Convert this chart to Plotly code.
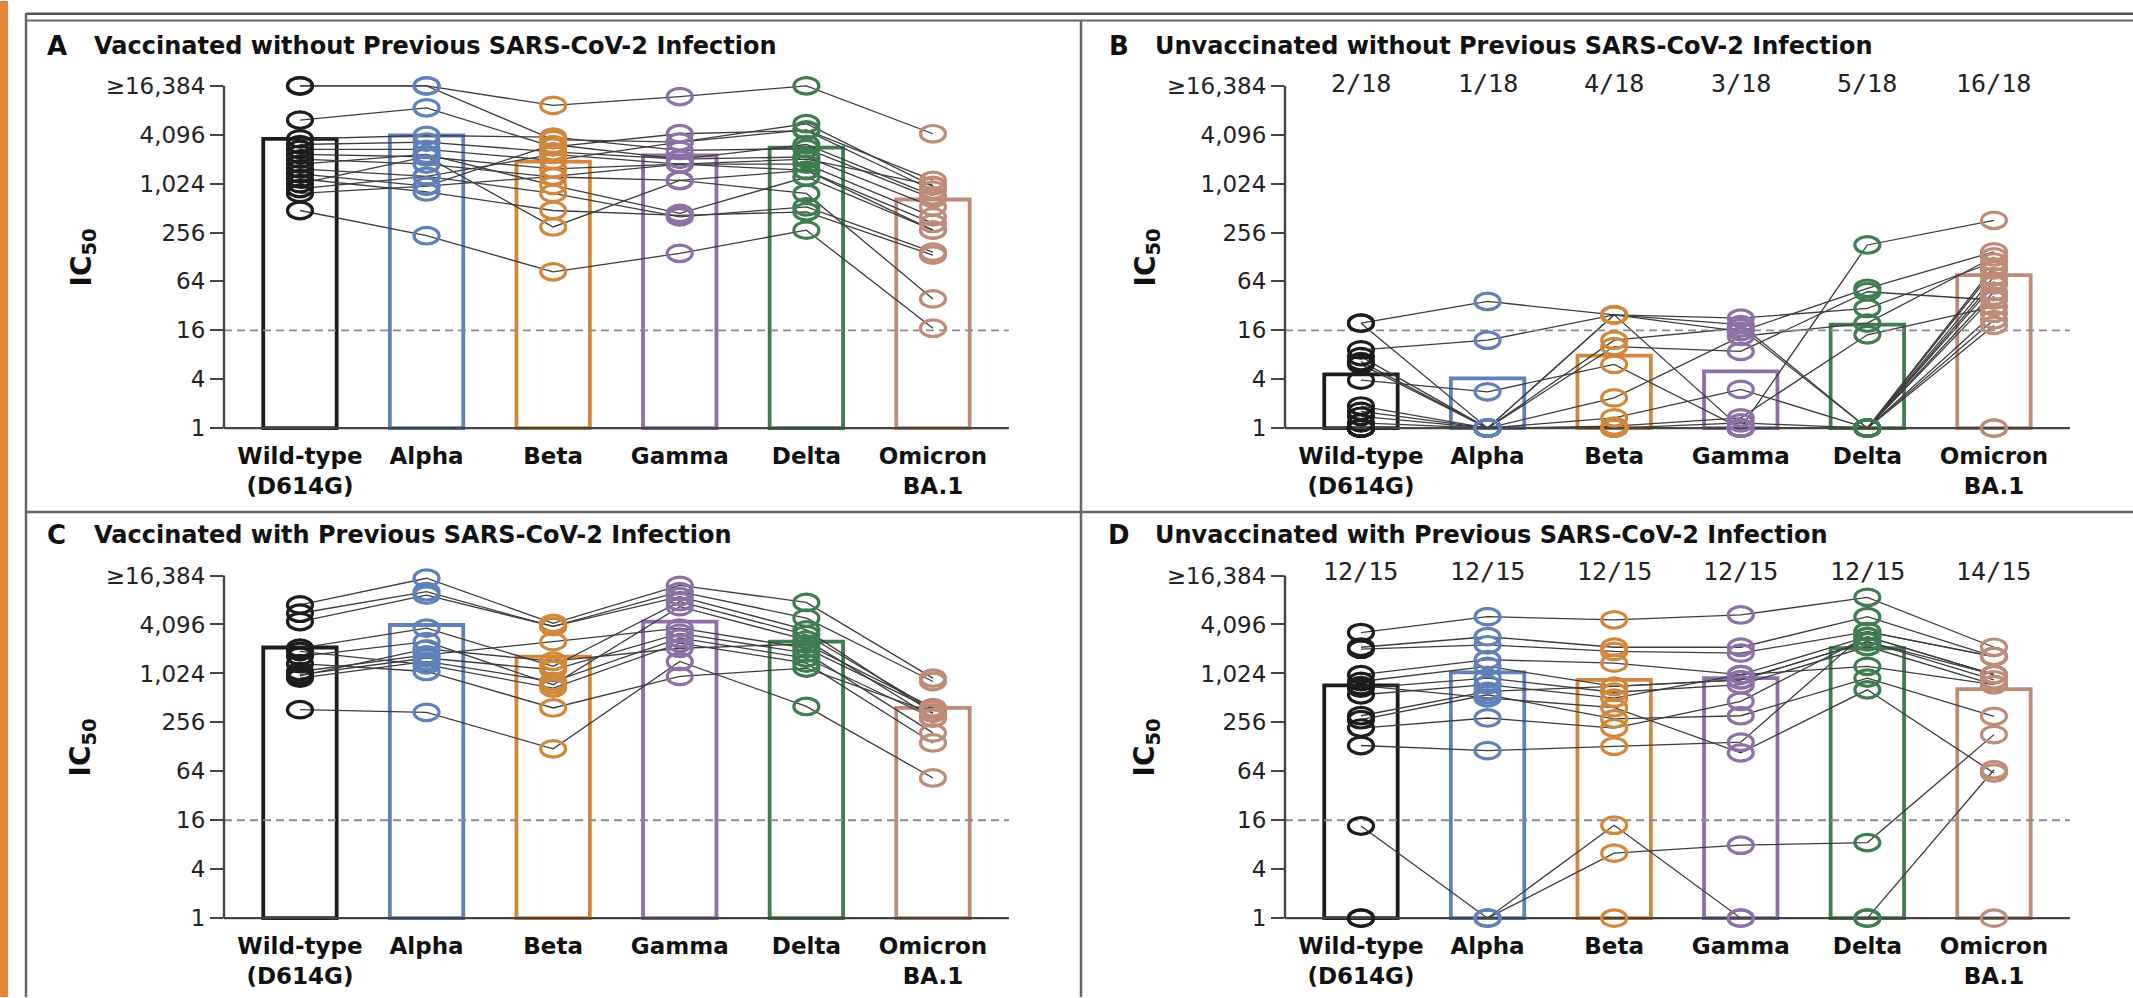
import math
import plotly.graph_objects as go

W, H = 2133, 998

# ---------------- data ----------------
variants = ["Wild-type<br>(D614G)", "Alpha", "Beta", "Gamma", "Delta", "Omicron<br>BA.1"]
ytick_vals = [1, 4, 16, 64, 256, 1024, 4096, 16384]
ytick_text = ["1", "4", "16", "64", "256", "1,024", "4,096", "≥16,384"]
threshold = 16

titles = {
    "A": "Vaccinated without Previous SARS-CoV-2 Infection",
    "B": "Unvaccinated without Previous SARS-CoV-2 Infection",
    "C": "Vaccinated with Previous SARS-CoV-2 Infection",
    "D": "Unvaccinated with Previous SARS-CoV-2 Infection",
}

# IC50 per participant: [WT, Alpha, Beta, Gamma, Delta, Omicron BA.1]
a_participants = [
    [16384, 16384, 9410, 12080, 16384, 4210],
    [16384, 16384, 3565, 3328, 5595, 955],
    [6208, 8780, 2896, 4211, 4608, 849],
    [3640, 4010, 3822, 2628, 2760, 671],
    [3104, 3328, 2521, 2048, 2180, 530],
    [2702, 2702, 1978, 3328, 4705, 1120],
    [2353, 2195, 1552, 1783, 1783, 399],
    [2048, 1783, 1235, 1120, 1489, 331],
    [1783, 2353, 975, 440, 1235, 274],
    [1552, 1261, 776, 399, 530, 147],
    [1351, 955, 3104, 2048, 3104, 724],
    [1176, 809, 478, 416, 461, 135],
    [1024, 2195, 300, 1120, 776, 39],
    [891, 1261, 2353, 1783, 2048, 975],
    [776, 955, 1261, 1783, 1489, 274],
    [478, 234, 84, 142, 274, 17],
]
a_gmt = [3640, 4010, 1911, 2272, 2837, 653]

b_participants = [
    [19.6, 36.3, 24.8, 22.6, 29.9, 111],
    [19.6, 1, 24.8, 18.8, 1, 88.6],
    [9.2, 12.1, 24.8, 15.5, 52.7, 148],
    [7.6, 1, 24.8, 1, 180, 362],
    [6.6, 1, 12.1, 17.1, 1, 73.5],
    [6.1, 1, 10.1, 8.8, 47.8, 37.8],
    [3.9, 2.8, 6.1, 1, 1, 58.1],
    [1.87, 1, 2.36, 13.5, 19.6, 128],
    [1.61, 1, 1.34, 3.0, 1, 47.8],
    [1.4, 1, 1.06, 1.34, 14.1, 31.3],
    [1.16, 1, 1, 1.16, 1, 21.6],
    [1, 1, 1, 1, 1, 97],
    [1, 1, 1, 1, 1, 64],
    [1, 1, 1, 1, 1, 42.2],
    [1, 1, 1, 1, 1, 26],
    [1, 1, 1, 1, 1, 18.4],
    [1, 1, 1, 1, 1, 1],
    [1, 1, 1, 1, 1, 1],
]
b_gmt = [4.6, 4.1, 7.8, 5.0, 18.8, 76.6]
b_fractions = ["2/18", "1/18", "4/18", "3/18", "5/18", "16/18"]

c_participants = [
    [7132, 15180, 4240, 12417, 7643, 898],
    [5633, 10367, 3875, 10367, 4904, 815],
    [4450, 9410, 3875, 9027, 3517, 333],
    [2091, 3691, 1252, 7804, 3061, 367],
    [1663, 2521, 744, 6794, 2647, 290],
    [1082, 1734, 2521, 3691, 2091, 367],
    [989, 1585, 1136, 3191, 1820, 190],
    [898, 1438, 815, 2778, 1585, 290],
    [1911, 1305, 676, 2419, 1370, 143],
    [1351, 1082, 385, 942, 1193, 333],
    [367, 340, 121, 1438, 402, 53],
    [955, 2048, 1448, 2091, 2353, 388],
]
c_gmt = [2135, 4039, 1652, 4450, 2521, 385]

d_participants = [
    [3259, 5113, 4672, 5367, 8841, 2149],
    [2150, 2896, 2150, 2150, 5113, 1652],
    [2034, 2304, 1911, 1820, 3350, 1652],
    [989, 1510, 1370, 989, 2896, 989],
    [815, 1252, 709, 855, 2521, 855],
    [676, 898, 601, 744, 2195, 744],
    [560, 744, 508, 989, 1252, 744],
    [309, 617, 709, 855, 2521, 989],
    [276, 560, 282, 309, 898, 304],
    [218, 290, 218, 465, 2896, 989],
    [133, 115, 130, 146, 3350, 1652],
    [13.6, 1, 13.9, 1, 1, 67],
    [1, 1, 6.3, 7.9, 8.5, 181],
    [724, 512, 388, 108, 644, 61],
    [1, 1, 1, 1, 1, 1],
]
d_gmt = [729, 1053, 855, 898, 2091, 657]
d_fractions = ["12/15", "12/15", "12/15", "12/15", "12/15", "14/15"]

# ---------------- styles / layout geometry ----------------
colors = ["#1c1c1c", "#5f80b8", "#d2883c", "#8c70a6", "#3f7d50", "#bf8b79"]
FONT = "DejaVu Sans"
unit_x = 126.6          # px per category
marker_half_w = 12.5    # px
marker_half_h = 8.3     # px

panels = [
    dict(key="A", rows=a_participants, gmt=a_gmt, fr=None, ax_left=224, y_top=85.0, y_bot=428.0,
         letter_x=45, title_x=91.6, title_y=45, ic_x=83, ic_y=257, fr_y=None),
    dict(key="B", rows=b_participants, gmt=b_gmt, fr=b_fractions, ax_left=1285, y_top=85.0, y_bot=428.0,
         letter_x=1107, title_x=1152.5, title_y=45, ic_x=1147, ic_y=257, fr_y=83),
    dict(key="C", rows=c_participants, gmt=c_gmt, fr=None, ax_left=224, y_top=575.7, y_bot=919.0,
         letter_x=45, title_x=91.6, title_y=535, ic_x=83, ic_y=748, fr_y=None),
    dict(key="D", rows=d_participants, gmt=d_gmt, fr=d_fractions, ax_left=1285, y_top=575.7, y_bot=919.0,
         letter_x=1105.5, title_x=1152.5, title_y=535, ic_x=1147, ic_y=748, fr_y=572),
]


def px(x):
    return x / W


def py(y):
    return 1 - y / H


fig = go.Figure()
layout = dict(
    width=W, height=H, margin=dict(l=0, r=0, t=0, b=0),
    paper_bgcolor="white", plot_bgcolor="rgba(0,0,0,0)",
    showlegend=False, font=dict(family=FONT, color="#111"),
)
shapes = []
annotations = []

# page frame
shapes.append(dict(type="rect", xref="paper", yref="paper", x0=0, x1=px(8), y0=0, y1=1,
                   fillcolor="#e6843a", line=dict(width=0), layer="below"))
frame_lines = [
    (26, 12.7, W, 12.7, 2.5, "#555"),
    (26, 19.5, W, 19.5, 2, "#666"),
    (26, 12, 26, H, 2.5, "#666"),
    (1081, 19.5, 1081, H, 2.5, "#666"),
    (26, 512, W, 512, 2.5, "#666"),
]
for x0, y0, x1, y1, w, c in frame_lines:
    shapes.append(dict(type="line", xref="paper", yref="paper", x0=px(x0), y0=py(y0), x1=px(x1), y1=py(y1),
                       line=dict(color=c, width=w)))

for i, p in enumerate(panels, start=1):
    xa = "x" if i == 1 else f"x{i}"
    ya = "y" if i == 1 else f"y{i}"
    xname = "xaxis" if i == 1 else f"xaxis{i}"
    yname = "yaxis" if i == 1 else f"yaxis{i}"
    unit_y = (p["y_bot"] - p["y_top"]) / 14.0
    top_px = p["y_top"] - 0.5 * unit_y
    bot_px = p["y_bot"] + 0.5 * unit_y
    left_px = p["ax_left"]
    right_px = left_px + 6.2 * unit_x
    # marker half sizes in axis units (x: categories, y: multiplicative factor on log axis)
    hw = marker_half_w / unit_x
    kf = 2 ** (marker_half_h / unit_y)

    layout[xname] = dict(
        domain=[px(left_px), px(right_px)], range=[-0.6, 5.6], anchor=ya,
        tickmode="array", tickvals=list(range(6)), ticktext=variants,
        showgrid=False, zeroline=False, showline=False, ticks="",
        tickfont=dict(family=FONT, size=23, color="#111", weight="bold"), fixedrange=True,
    )
    layout[yname] = dict(
        domain=[py(bot_px), py(top_px)], type="log",
        range=[math.log10(2 ** -0.5), math.log10(2 ** 14.5)], anchor=xa,
        tickmode="array", tickvals=ytick_vals, ticktext=ytick_text,
        ticks="outside", ticklen=13, tickwidth=1.6, tickcolor="#444",
        showgrid=False, zeroline=False, showline=False,
        tickfont=dict(family=FONT, size=23, color="#222"), fixedrange=True,
    )

    # GMT bars (hollow)
    fig.add_trace(go.Bar(
        x=list(range(6)), y=[v - 1 for v in p["gmt"]], base=1, width=0.58,
        marker=dict(color="rgba(0,0,0,0)", line=dict(color=colors, width=3.8)),
        xaxis=xa, yaxis=ya, hoverinfo="skip",
    ))
    # participant lines
    for row in p["rows"]:
        fig.add_trace(go.Scatter(
            x=list(range(6)), y=row, mode="lines",
            line=dict(color="#3c3c3c", width=1.3),
            xaxis=xa, yaxis=ya, hoverinfo="skip",
        ))

    # axis lines and threshold
    shapes.append(dict(type="line", xref=xa, yref=ya, x0=-0.6, x1=5.6, y0=threshold, y1=threshold,
                       line=dict(color="#8a8a8a", width=1.8, dash="8px,5px")))
    shapes.append(dict(type="line", xref=xa, yref=ya, x0=-0.6, x1=5.6, y0=1, y1=1,
                       line=dict(color="#444", width=2.4)))
    shapes.append(dict(type="line", xref="paper", yref=ya, x0=px(left_px), x1=px(left_px), y0=1, y1=16384,
                       line=dict(color="#444", width=2.4)))

    # hollow elliptical markers centred on the data values
    for row in p["rows"]:
        for j, v in enumerate(row):
            shapes.append(dict(
                type="circle", xref=xa, yref=ya,
                x0=j - hw, x1=j + hw, y0=v / kf, y1=v * kf,
                line=dict(color=colors[j], width=3.2), fillcolor="rgba(0,0,0,0)",
            ))

    # titles
    annotations.append(dict(xref="paper", yref="paper", x=px(p["letter_x"]), y=py(p["title_y"]),
                            xanchor="left", yanchor="middle", showarrow=False,
                            text="<b>" + p["key"] + "</b>", font=dict(family=FONT, size=26, color="#111")))
    annotations.append(dict(xref="paper", yref="paper", x=px(p["title_x"]), y=py(p["title_y"]),
                            xanchor="left", yanchor="middle", showarrow=False,
                            text="<b>" + titles[p["key"]] + "</b>", font=dict(family=FONT, size=24, color="#111")))
    annotations.append(dict(xref="paper", yref="paper", x=px(p["ic_x"]), y=py(p["ic_y"]),
                            xanchor="center", yanchor="middle", showarrow=False, textangle=-90,
                            text="<b>IC<sub>50</sub></b>", font=dict(family=FONT, size=28, color="#111")))
    if p["fr"]:
        for j, t in enumerate(p["fr"]):
            annotations.append(dict(xref=xa, yref="paper", x=j, y=py(p["fr_y"]),
                                    xanchor="center", yanchor="middle", showarrow=False,
                                    text=t, font=dict(family="DejaVu Sans Mono", size=25, color="#222")))

layout["shapes"] = shapes
layout["annotations"] = annotations
fig.update_layout(**layout)
fig.write_html("out.html")
